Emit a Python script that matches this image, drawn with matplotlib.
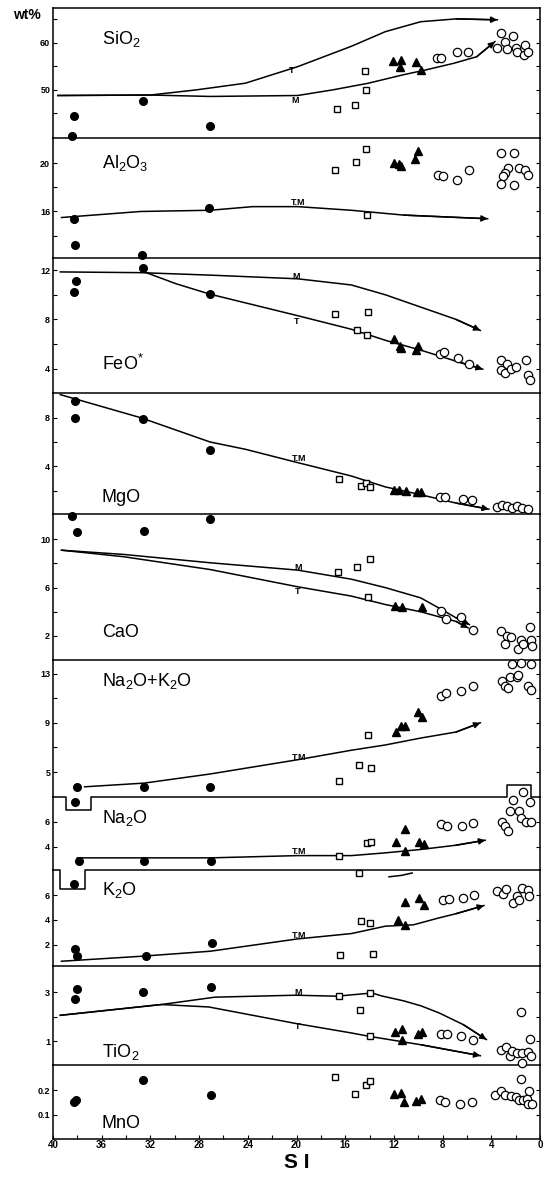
import matplotlib
matplotlib.use("Agg")
import matplotlib.pyplot as plt

plt.rcParams['font.family'] = ['Liberation Sans', 'DejaVu Sans']
plt.rcParams['mathtext.default'] = 'regular'

# ---- data: (SI, wt%) pairs ----
# dots = filled circles, sq = open squares, tri = filled triangles, ring = open circles
sio2_dots = [(38.3, 44.4), (38.4, 40.3), (32.6, 47.7), (27.1, 42.4)]
sio2_sq = [(16.7, 46.0), (15.2, 46.8), (14.3, 49.9), (14.4, 53.9)]
sio2_tri = [(12.1, 56.1), (11.4, 56.3), (11.5, 54.9), (10.2, 55.8), (9.8, 54.2)]
sio2_ring = [(8.5, 56.7), (8.1, 56.7), (6.8, 57.9), (5.9, 58.0), (3.2, 62.0), (2.9, 60.2),
             (2.2, 61.3), (3.5, 58.9), (2.7, 58.6), (1.96, 58.8), (1.9, 58.1), (1.2, 59.5),
             (1.3, 57.4), (0.95, 57.9)]
sio2_T = [(39.6, 48.8), (32.0, 48.9), (28.2, 50.0), (24.2, 51.4), (19.9, 54.9), (15.5, 59.2),
          (12.7, 62.3), (9.8, 64.4), (6.9, 65.0), (3.5, 64.8)]
sio2_M = [(39.6, 48.8), (32.0, 48.9), (27.1, 48.6), (19.9, 48.8), (17.0, 50.0), (14.1, 51.4),
          (11.2, 53.2), (9.4, 54.2), (7.1, 55.6), (5.2, 57.0), (3.7, 60.2)]

al2o3_dots = [(38.3, 15.4), (38.2, 13.2), (32.7, 12.4), (27.2, 16.3)]
al2o3_sq = [(16.8, 19.4), (15.1, 20.1), (14.3, 21.2), (14.2, 15.7)]
al2o3_tri = [(12.0, 20.0), (11.6, 19.9), (11.4, 19.8), (10.3, 20.3), (10.0, 21.0)]
al2o3_ring = [(8.4, 19.0), (8.0, 18.95), (6.8, 18.6), (5.8, 19.4), (3.2, 20.8), (2.1, 20.8),
              (2.6, 19.6), (2.9, 19.2), (3.0, 18.9), (3.2, 18.3), (2.1, 18.2), (1.7, 19.6),
              (1.2, 19.4), (1.0, 19.0)]
al2o3_TM = [(39.3, 15.5), (32.8, 16.0), (27.1, 16.1), (23.6, 16.4), (19.9, 16.4), (15.5, 16.1),
            (11.2, 15.7), (4.3, 15.4)]

feo_dots = [(38.1, 11.1), (38.3, 10.2), (32.6, 12.2), (27.1, 10.1)]
feo_sq = [(16.8, 8.4), (14.1, 8.6), (15.0, 7.1), (14.2, 6.7)]
feo_tri = [(12.0, 6.4), (11.5, 5.8), (11.4, 5.7), (10.2, 5.5), (10.0, 5.8)]
feo_ring = [(8.2, 5.2), (7.9, 5.35), (6.7, 4.9), (5.8, 4.4), (3.2, 4.7), (2.7, 4.4), (3.2, 3.9),
            (2.9, 3.6), (2.4, 3.95), (1.96, 4.1), (1.15, 4.7), (1.0, 3.5), (0.8, 3.1)]
feo_M = [(39.4, 11.86), (32.8, 11.8), (27.1, 11.6), (19.9, 11.3), (15.5, 10.8), (12.7, 10.0),
         (9.8, 9.0), (6.9, 8.0), (4.9, 7.1)]
feo_T = [(32.5, 11.86), (29.9, 10.9), (27.1, 10.05), (19.9, 8.3), (15.5, 7.2), (12.7, 6.3),
         (9.8, 5.5), (6.9, 4.6), (4.7, 3.95)]

mgo_dots = [(38.2, 9.4), (38.2, 7.95), (32.6, 7.9), (27.1, 5.3)]
mgo_sq = [(16.5, 2.95), (14.7, 2.35), (14.3, 2.6), (14.0, 2.3)]
mgo_tri = [(12.0, 2.07), (11.6, 2.07), (11.0, 1.93), (10.1, 1.88), (9.8, 1.88)]
mgo_ring = [(8.2, 1.5), (7.8, 1.5), (6.3, 1.3), (5.6, 1.2), (3.5, 0.65), (3.1, 0.77), (2.7, 0.7),
            (2.3, 0.55), (1.9, 0.7), (1.5, 0.55), (1.0, 0.47)]
mgo_TM = [(39.4, 9.9), (32.8, 8.0), (27.1, 6.0), (24.2, 5.4), (19.9, 4.3), (15.5, 3.2),
          (12.7, 2.3), (9.8, 1.66), (6.9, 0.97), (4.2, 0.47)]

cao_dots = [(38.4, 11.9), (38.0, 10.6), (32.5, 10.7), (27.1, 11.7)]
cao_sq = [(16.6, 7.3), (15.0, 7.7), (14.0, 8.4), (14.1, 5.2)]
cao_tri = [(11.9, 4.5), (11.3, 4.4), (9.7, 4.4)]
cao_ring = [(8.1, 4.05), (7.7, 3.4), (6.5, 3.6), (5.5, 2.5), (3.2, 2.4), (2.7, 2.0), (2.4, 1.9),
            (2.9, 1.3), (1.6, 1.7), (1.8, 0.9), (1.4, 1.3), (0.86, 2.7), (0.72, 1.7), (0.63, 1.2)]
cao_M = [(39.3, 9.1), (34.2, 8.75), (27.1, 8.06), (19.9, 7.45), (15.5, 6.7), (12.7, 6.0),
         (9.8, 5.15), (8.1, 4.2), (6.9, 3.5), (5.8, 2.94)]
cao_T = [(39.3, 9.1), (34.2, 8.56), (27.1, 7.5), (19.9, 6.07), (15.5, 5.3), (12.7, 4.6),
         (9.8, 4.0), (6.9, 3.2), (5.9, 2.66)]

nak_dots = [(38.0, 3.77), (32.5, 3.77), (27.1, 3.77), (38.2, 2.53)]
nak_sq = [(14.1, 8.03), (16.5, 4.25), (14.9, 5.6), (13.9, 5.3)]
nak_tri = [(11.8, 8.25), (11.4, 8.7), (11.1, 8.7), (10.0, 9.86), (9.7, 9.46)]
nak_ring = [(8.1, 11.2), (7.7, 11.4), (6.5, 11.6), (5.5, 12.0), (2.3, 13.75), (1.6, 13.9),
            (0.78, 13.75), (3.1, 12.4), (2.9, 12.0), (2.6, 11.8), (2.5, 12.76), (1.9, 12.7),
            (1.8, 12.9), (1.0, 12.0), (0.78, 11.66)]
nak_TM = [(37.4, 3.8), (32.5, 4.1), (27.1, 4.84), (19.9, 6.0), (15.5, 6.77), (12.7, 7.2),
          (9.8, 7.76), (6.9, 8.25), (4.9, 9.0)]

na2o_dots = [(37.9, 2.85), (32.5, 2.85), (27.0, 2.85), (38.3, 1.07)]
na2o_sq = [(14.2, 4.32), (13.9, 4.4), (16.5, 3.25)]
na2o_tri = [(11.8, 4.4), (11.1, 5.44), (9.9, 4.4), (9.5, 4.24), (11.1, 3.65)]
na2o_ring = [(8.1, 5.79), (7.6, 5.65), (6.4, 5.7), (5.5, 5.92), (2.2, 7.73), (2.5, 6.85),
             (1.7, 6.85), (1.6, 6.3), (0.8, 7.57), (3.1, 6.0), (2.9, 5.65), (2.6, 5.25),
             (1.15, 5.97), (0.7, 5.97), (1.37, 8.4)]
na2o_TM = [(38.0, 3.12), (32.8, 3.12), (27.1, 3.12), (19.9, 3.3), (15.5, 3.3), (12.7, 3.52),
           (9.8, 3.79), (6.9, 4.13), (4.5, 4.53)]

k2o_dots = [(38.2, 1.65), (38.0, 1.05), (32.4, 1.1), (26.9, 2.14)]
k2o_sq = [(16.4, 1.19), (13.7, 1.24), (14.7, 3.9), (14.0, 3.76), (14.9, 7.8)]
k2o_tri = [(11.7, 3.95), (11.1, 3.62), (11.1, 5.46), (9.9, 5.78), (9.5, 5.24)]
k2o_ring = [(8.0, 5.57), (7.5, 5.7), (6.3, 5.78), (5.4, 6.0), (3.5, 6.32), (3.0, 6.13),
            (2.8, 6.5), (2.2, 5.38), (1.9, 5.92), (1.7, 5.6), (1.5, 6.6), (1.0, 6.38), (0.9, 5.92)]
k2o_TM = [(39.3, 0.65), (32.8, 1.05), (27.1, 1.46), (19.9, 2.46), (15.5, 2.89), (12.7, 3.49),
          (10.4, 3.6), (8.3, 4.16), (6.9, 4.5), (4.6, 5.16)]
k2o_frag = [(12.4, 7.49), (11.4, 7.6), (10.5, 7.8)]

tio2_dots = [(38.0, 3.14), (38.2, 2.74), (32.6, 3.01), (27.0, 3.2)]
tio2_sq = [(16.5, 2.84), (14.0, 2.97), (14.8, 2.27), (14.0, 1.2)]
tio2_tri = [(11.9, 1.37), (11.3, 1.5), (11.3, 1.07), (10.0, 1.3), (9.7, 1.38)]
tio2_ring = [(8.1, 1.3), (7.6, 1.3), (6.5, 1.23), (5.5, 1.07), (1.6, 2.2), (0.8, 1.1),
             (3.2, 0.63), (2.8, 0.77), (2.5, 0.41), (2.3, 0.59), (1.9, 0.52), (1.5, 0.52),
             (1.0, 0.56), (0.7, 0.41), (1.5, 0.12)]
tio2_M = [(39.4, 2.06), (31.1, 2.5), (26.7, 2.8), (20.1, 2.88), (16.7, 2.84), (13.8, 2.97),
          (13.0, 2.85), (11.2, 2.65), (9.8, 2.45), (8.3, 2.16), (6.3, 1.68), (4.4, 1.07)]
tio2_T = [(39.4, 2.06), (31.1, 2.5), (27.2, 2.4), (20.1, 1.73), (15.5, 1.34), (14.0, 1.2),
          (9.8, 0.86), (4.9, 0.41)]

mno_dots = [(38.3, 0.151), (38.1, 0.162), (32.6, 0.244), (27.0, 0.182)]
mno_sq = [(16.8, 0.253), (15.2, 0.186), (14.3, 0.223), (14.0, 0.237)]
mno_tri = [(12.0, 0.186), (11.4, 0.189), (11.2, 0.151), (10.2, 0.155), (9.8, 0.164)]
mno_ring = [(8.2, 0.159), (7.8, 0.152), (6.6, 0.145), (5.6, 0.151), (3.7, 0.182), (3.2, 0.196),
            (2.9, 0.18), (2.4, 0.175), (1.96, 0.173), (1.7, 0.159), (1.4, 0.159), (0.9, 0.196),
            (1.1, 0.166), (1.0, 0.145), (0.63, 0.145), (1.6, 0.248)]

x_ticks = [40, 36, 32, 28, 24, 20, 16, 12, 8, 4, 0]

# panel setup: label, label position (axes frac), ylim, labelled ticks, unlabelled ticks
panels = [
    ('SiO$_2$', (0.10, 0.76), (39.8, 67.3), [50, 60], [45, 55, 65]),
    ('Al$_2$O$_3$', (0.10, 0.79), (12.14, 22.07), [16, 20], [14, 18]),
    ('FeO$^{*}$', (0.10, 0.21), (2.05, 12.98), [4, 8, 12], [6, 10]),
    ('MgO', (0.10, 0.13), (0.1, 10.07), [4, 8], [2, 6]),
    ('CaO', (0.10, 0.19), (0.0, 12.13), [2, 6, 10], [4, 8]),
    ('Na$_2$O+K$_2$O', (0.10, 0.85), (2.96, 14.1), [5, 9, 13], [7, 11]),
    ('Na$_2$O', (0.10, 0.71), (2.19, 7.97), [4, 6], []),
    ('K$_2$O', (0.10, 0.79), (0.3, 8.08), [2, 4, 6], []),
    ('TiO$_2$', (0.10, 0.13), (0.02, 4.09), [1, 3], [2]),
    ('MnO', (0.10, 0.21), (0.0, 0.303), [0.1, 0.2], []),
]
heights = [390, 360, 403, 363, 439, 411, 217, 288, 299, 221]

fig = plt.figure(figsize=(5.5, 11.81), dpi=100)
gs = fig.add_gridspec(len(panels), 1, height_ratios=heights, hspace=0,
                      left=53 / 550, right=540 / 550, top=1 - 8 / 1181, bottom=1 - 1139 / 1181)
axes = [fig.add_subplot(gs[i, 0]) for i in range(len(panels))]


def xy(pts):
    return [p[0] for p in pts], [p[1] for p in pts]


def scatter_all(ax, dots, sq, tri, ring):
    x, y = xy(dots)
    ax.plot(x, y, 'o', color='k', ms=5.5, clip_on=False, zorder=4)
    x, y = xy(sq)
    ax.plot(x, y, 's', mfc='white', mec='k', ms=4.3, mew=1.0, clip_on=False, zorder=4)
    x, y = xy(tri)
    ax.plot(x, y, '^', color='k', ms=5.5, clip_on=False, zorder=4)
    x, y = xy(ring)
    ax.plot(x, y, 'o', mfc='white', mec='k', ms=6, mew=0.9, clip_on=False, zorder=4)


def trend(ax, pts, tag=None, tag_xy=None, arrow=True):
    x, y = xy(pts)
    ax.plot(x, y, '-', color='k', lw=1.1, zorder=3)
    if arrow:
        ax.annotate('', xy=pts[-1], xytext=pts[-2],
                    arrowprops=dict(arrowstyle='-|>', color='k', lw=1.1,
                                    mutation_scale=9, shrinkA=0, shrinkB=0))
    if tag:
        ax.text(tag_xy[0], tag_xy[1], tag, fontsize=6.5, fontweight='bold',
                ha='center', va='center', zorder=5)


for i, (ax, (label, lpos, ylim, major, minor)) in enumerate(zip(axes, panels)):
    ax.patch.set_visible(False)
    ax.set_xlim(40, 0)
    ax.set_ylim(*ylim)
    ax.set_yticks(major)
    ax.set_yticks(minor, minor=True)
    ax.set_yticklabels([('%g' % v) for v in major], fontsize=6.5, fontweight='bold')
    ax.tick_params(axis='y', which='both', direction='in', left=True, right=True,
                   length=3, width=0.8, pad=2)
    ax.text(lpos[0], lpos[1], label, transform=ax.transAxes, fontsize=13,
            ha='left', va='center')
    for s in ax.spines.values():
        s.set_linewidth(1.1)
    if i > 0:
        ax.spines['top'].set_visible(False)
    if i < len(panels) - 1:
        ax.tick_params(axis='x', which='both', bottom=False, labelbottom=False)
    else:
        ax.set_xticks(x_ticks)
        ax.set_xticks(range(38, 0, -4), minor=True)
        ax.set_xticklabels([str(v) for v in x_ticks], fontsize=7, fontweight='bold')
        ax.tick_params(axis='x', which='both', direction='in', length=3, width=0.8, pad=1)

ax_si, ax_al, ax_fe, ax_mg, ax_ca, ax_nak, ax_na, ax_k, ax_ti, ax_mn = axes

scatter_all(ax_si, sio2_dots, sio2_sq, sio2_tri, sio2_ring)
trend(ax_si, sio2_T, 'T', (20.4, 54.0))
trend(ax_si, sio2_M, 'M', (20.1, 47.8))

scatter_all(ax_al, al2o3_dots, al2o3_sq, al2o3_tri, al2o3_ring)
trend(ax_al, al2o3_TM, 'T.M', (19.9, 16.75))

scatter_all(ax_fe, feo_dots, feo_sq, feo_tri, feo_ring)
trend(ax_fe, feo_M, 'M', (20.0, 11.45))
trend(ax_fe, feo_T, 'T', (20.0, 7.8))

scatter_all(ax_mg, mgo_dots, mgo_sq, mgo_tri, mgo_ring)
trend(ax_mg, mgo_TM, 'T.M', (19.8, 4.6))

scatter_all(ax_ca, cao_dots, cao_sq, cao_tri, cao_ring)
trend(ax_ca, cao_M, 'M', (19.9, 7.7))
trend(ax_ca, cao_T, 'T', (19.9, 5.7))

scatter_all(ax_nak, nak_dots, nak_sq, nak_tri, nak_ring)
trend(ax_nak, nak_TM, 'T.M', (19.8, 6.15))

scatter_all(ax_na, na2o_dots, na2o_sq, na2o_tri, na2o_ring)
trend(ax_na, na2o_TM, 'T.M', (19.8, 3.65))

scatter_all(ax_k, k2o_dots, k2o_sq, k2o_tri, k2o_ring)
trend(ax_k, k2o_TM, 'T.M', (19.8, 2.72))
trend(ax_k, k2o_frag, arrow=False)

scatter_all(ax_ti, tio2_dots, tio2_sq, tio2_tri, tio2_ring)
trend(ax_ti, tio2_M, 'M', (19.9, 3.0))
trend(ax_ti, tio2_T, 'T', (19.9, 1.6))

scatter_all(ax_mn, mno_dots, mno_sq, mno_tri, mno_ring)

# boundaries with the notches that carry off-scale points
ax_nak.spines['bottom'].set_visible(False)
ax_na.spines['bottom'].set_visible(False)
ylo = ax_nak.get_ylim()[0]
ax_nak.plot([40, 38.9, 38.9, 36.9, 36.9, 2.74, 2.74, 0.77, 0.77, 0],
            [ylo, ylo, 1.92, 1.92, ylo, ylo, 3.97, 3.97, ylo, ylo],
            color='k', lw=1.1, clip_on=False, zorder=3)
ylo = ax_na.get_ylim()[0]
ax_na.plot([40, 39.4, 39.4, 37.4, 37.4, 0],
           [ylo, ylo, 0.67, 0.67, ylo, ylo],
           color='k', lw=1.1, clip_on=False, zorder=3)

fig.text(27 / 550, 1 - 15 / 1181, 'wt%', fontsize=10, fontweight='bold',
         ha='center', va='center')
fig.text((53 + 540) / 2 / 550, 1 - 1162 / 1181, 'S I', fontsize=15, fontweight='bold',
         ha='center', va='center')

fig.savefig('out.png', dpi=100, facecolor='white')
